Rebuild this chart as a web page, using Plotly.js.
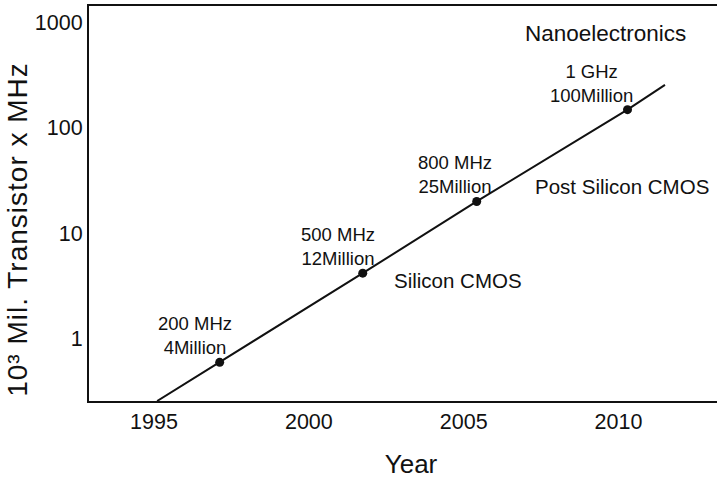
<!DOCTYPE html>
<html>
<head>
<meta charset="utf-8">
<script src="https://cdn.plot.ly/plotly-3.0.1.min.js"></script>
<style>
  html, body { margin: 0; padding: 0; background: #ffffff; }
  #chart { width: 717px; height: 479px; }
  .ytitle { letter-spacing: 1px; }
  .g-ytitle { transform: translate(10px, 26px); }
  .g-xtitle { transform: translate(8px, 0px); }
</style>
</head>
<body>
<div id="chart"></div>
<script>
// ---- data ----
const pointYears = [1997.12, 2001.74, 2005.42, 2010.29];
const pointValues = [0.60, 4.2, 20.1, 149];
const clockLabels = ['200 MHz', '500 MHz', '800 MHz', '1 GHz'];
const transistorLabels = ['4Million', '12Million', '25Million', '100Million'];

const trendYears = [1995.10, 1997.12, 2001.74, 2005.42, 2010.29, 2011.50];
const trendValues = [0.258, 0.60, 4.2, 20.1, 149, 256];

const xTickVals = [1995, 2000, 2005, 2010];
const xTickText = ['1995', '2000', '2005', '2010'];
const yTickVals = [1, 10, 100, 1000];
const yTickText = ['1', '10', '100', '1000'];

const regionLabels = ['Silicon CMOS', 'Post Silicon CMOS', 'Nanoelectronics'];

// ---- styling ----
const FONT = 'Liberation Sans, Arial, Helvetica, sans-serif';
const INK = '#111111';

const traces = [
  {
    x: trendYears, y: trendValues, type: 'scatter', mode: 'lines',
    line: { color: INK, width: 2 }, hoverinfo: 'skip', showlegend: false
  },
  {
    x: pointYears, y: pointValues, type: 'scatter', mode: 'markers',
    marker: { color: INK, size: 9 }, showlegend: false
  }
];

const pointShifts = [[-25, 26.5], [-25, 26.5], [-22, 26.5], [-36, 26]];
const annotations = pointYears.map((yr, i) => ({
  x: yr, y: Math.log10(pointValues[i]), xref: 'x', yref: 'y',
  text: clockLabels[i] + '<br>' + transistorLabels[i],
  showarrow: false, xanchor: 'center', yanchor: 'middle',
  xshift: pointShifts[i][0], yshift: pointShifts[i][1],
  font: { family: FONT, size: 18.5, color: INK }
}));

const regionPos = [
  { x: 0.4825, y: 0.3063, xanchor: 'left', size: 20.5 },
  { x: 0.7070, y: 0.5418, xanchor: 'left', size: 20.5 },
  { x: 0.8217, y: 0.9316, xanchor: 'center', size: 22.5 }
];
regionLabels.forEach((t, i) => annotations.push({
  x: regionPos[i].x, y: regionPos[i].y, xref: 'paper', yref: 'paper',
  text: t, showarrow: false, xanchor: regionPos[i].xanchor, yanchor: 'middle',
  font: { family: FONT, size: regionPos[i].size, color: INK }
}));

const layout = {
  width: 717, height: 479,
  margin: { l: 89, r: 0, t: 6, b: 78 },
  paper_bgcolor: '#ffffff', plot_bgcolor: '#ffffff',
  font: { family: FONT, color: INK },
  showlegend: false,
  xaxis: {
    range: [1992.90, 2013.18],
    tickvals: xTickVals, ticktext: xTickText,
    ticks: '', showgrid: false, zeroline: false,
    showline: true, mirror: true, linecolor: INK, linewidth: 2,
    tickfont: { family: FONT, size: 21.5, color: INK },
    title: { text: 'Year', font: { family: FONT, size: 26, color: INK }, standoff: 22 }
  },
  yaxis: {
    type: 'log',
    range: [Math.log10(0.258), Math.log10(1432)],
    tickvals: yTickVals, ticktext: yTickText,
    ticks: '', showgrid: false, zeroline: false,
    showline: true, mirror: false, linecolor: INK, linewidth: 2,
    tickfont: { family: FONT, size: 21.5, color: INK },
    title: { text: '10³ Mil. Transistor x MHz', font: { family: FONT, size: 28, color: INK }, standoff: 9 }
  },
  annotations: annotations
};

Plotly.newPlot('chart', traces, layout, { displayModeBar: false, staticPlot: true });
</script>
</body>
</html>
